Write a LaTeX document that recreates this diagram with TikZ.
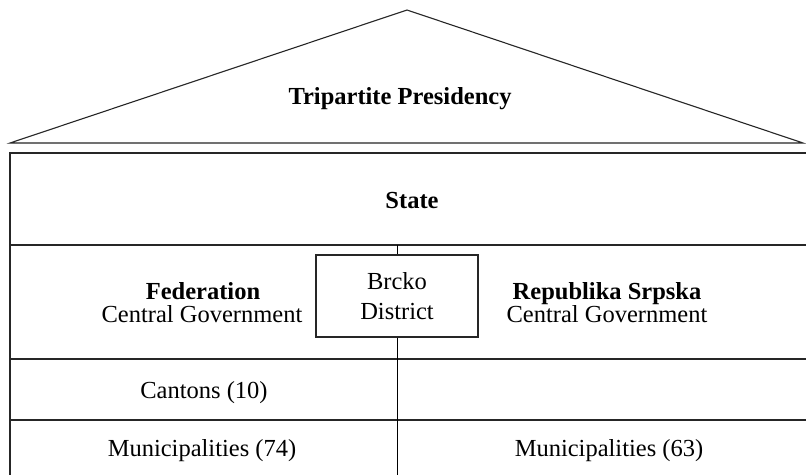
\documentclass[tikz,border=0pt]{standalone}
\usepackage{fontspec}
\setmainfont{Liberation Serif}
\begin{document}
\begin{tikzpicture}[x=1pt,y=-1pt,
  roof/.style={line width=1.1pt, draw=black!85, line join=miter},
  frame/.style={line width=1.6pt, draw=black!85},
  divider/.style={line width=1pt, draw=black},
  txt/.style={font=\fontsize{24.5}{29}\selectfont, inner sep=0pt, anchor=base},
  btxt/.style={txt, font=\fontsize{24.5}{29}\selectfont\bfseries},
  district/.style={draw=black!85, line width=1.4pt, minimum width=162pt, minimum height=82pt, inner sep=0pt, align=center, font=\fontsize{24.5}{30}\selectfont}]
\useasboundingbox (0,0) rectangle (806,474);
\fill[white] (0,0) rectangle (806,474);
% roof
\draw[roof] (10,143) -- (407,10) -- (803,143) -- cycle;
\node[btxt] (pres) at (400,104) {Tripartite Presidency};
% frame
\draw[frame] (10,490) -- (10,153) -- (820,153);
\draw[frame] (10,245) -- (820,245);
\draw[frame] (10,359) -- (820,359);
\draw[frame] (10,420) -- (820,420);
% texts
\node[btxt] (state) at (412,208) {State};
\node[btxt] (fed) at (203,299) {Federation};
\node[txt] (fedcg) at (202,322) {Central Government};
\node[btxt] (rs) at (607,299) {Republika Srpska};
\node[txt] (rscg) at (607,322) {Central Government};
\node[district] (brcko) at (397,296) {Brcko\\District};
\node[txt] (cant) at (204,398) {Cantons (10)};
\node[txt] (munf) at (202,456) {Municipalities (74)};
\node[txt] (munr) at (609,456) {Municipalities (63)};
% vertical divider
\coordinate (vtop) at (397,245);
\coordinate (vbot) at (397,490);
\draw[divider] (vtop) -- (brcko.north);
\draw[divider] (brcko.south) -- (vbot);
\end{tikzpicture}
\end{document}
